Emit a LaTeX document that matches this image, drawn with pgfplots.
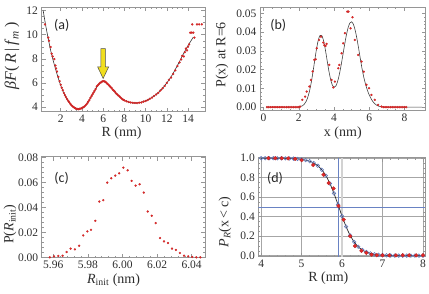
\documentclass[border=0pt]{standalone}
\usepackage{pgfplots}
\pgfplotsset{compat=1.18}
\usepackage{pgfplotstable}
\usepackage{fontspec}
\setmainfont{Liberation Serif}
\newfontfamily\panelfont{Carlito}
\definecolor{framec}{RGB}{150,150,150}
\definecolor{ptred}{RGB}{228,40,40}
\definecolor{ptblue}{RGB}{95,120,190}
\definecolor{lineblue}{RGB}{105,130,195}
\definecolor{txt}{RGB}{45,45,45}
\definecolor{arrowyellow}{RGB}{240,222,30}

\pgfplotstableread{
R F
0.52 10.86
0.83 9.76
0.90 9.50
1.05 8.98
1.15 8.43
1.24 8.20
1.40 7.98
1.50 7.45
1.56 7.20
1.65 6.95
1.78 6.50
1.90 6.15
2.00 5.85
2.10 5.60
2.20 5.40
2.30 5.17
2.40 4.98
2.50 4.82
2.60 4.66
2.70 4.52
2.80 4.40
2.90 4.27
3.00 4.16
3.10 4.08
3.20 4.00
3.30 3.94
3.40 3.88
3.50 3.85
3.60 3.84
3.70 3.82
3.80 3.86
3.90 3.87
4.00 3.92
4.10 3.97
4.20 4.02
4.30 4.10
4.40 4.20
4.50 4.30
4.60 4.45
4.70 4.58
4.80 4.75
4.90 4.90
5.00 5.05
5.10 5.20
5.20 5.35
5.30 5.50
5.40 5.72
5.50 5.80
5.60 5.90
5.70 6.00
5.80 6.05
5.90 6.12
6.00 6.15
6.10 6.13
6.20 6.10
6.30 6.02
6.40 5.92
6.50 5.85
6.60 5.75
6.70 5.66
6.80 5.58
6.90 5.45
7.00 5.37
7.10 5.28
7.20 5.15
7.30 5.08
7.40 4.98
7.50 4.92
7.60 4.82
7.70 4.74
7.80 4.66
7.90 4.60
8.00 4.55
8.20 4.48
8.40 4.42
8.60 4.38
8.80 4.35
9.00 4.34
9.20 4.33
9.40 4.36
9.60 4.38
9.80 4.45
10.00 4.50
10.20 4.58
10.40 4.68
10.60 4.78
10.80 4.92
11.00 5.05
11.20 5.18
11.40 5.38
11.60 5.55
11.80 5.75
12.00 6.00
12.20 6.25
12.40 6.45
12.60 6.75
12.80 7.05
13.00 7.40
13.20 7.70
13.35 7.95
13.45 8.25
13.60 8.20
13.70 8.55
13.80 8.85
13.90 8.70
14.00 9.00
14.10 9.20
14.20 10.17
14.35 10.17
14.50 10.17
14.60 9.76
14.40 10.86
14.85 10.86
15.05 10.86
15.30 10.86
}\dataA

\pgfplotstableread{
R F
0.35 12.00
0.50 11.20
0.60 10.70
0.75 10.00
0.90 9.35
1.00 8.90
1.25 8.00
1.50 7.20
1.75 6.45
2.00 5.80
2.25 5.25
2.50 4.80
2.75 4.45
3.00 4.15
3.25 3.97
3.50 3.87
3.75 3.85
4.00 3.90
4.25 4.05
4.50 4.30
4.75 4.65
5.00 5.05
5.25 5.45
5.50 5.80
5.75 6.05
6.00 6.15
6.25 6.05
6.50 5.85
6.75 5.60
7.00 5.35
7.25 5.10
7.50 4.90
7.75 4.70
8.00 4.55
8.50 4.38
9.00 4.33
9.50 4.38
10.00 4.52
10.50 4.75
11.00 5.05
11.50 5.45
12.00 6.00
12.50 6.65
13.00 7.45
13.50 8.30
14.00 9.10
14.50 9.80
}\curveA

\pgfplotstableread{
x P
0.2 0
0.3 0
0.4 0
0.5 0
0.6 0
0.7 0
0.8 0
0.9 0
1.0 0
1.1 0
1.2 0
1.3 0
1.4 0
1.5 0
1.6 0
1.7 0
1.8 0
1.9 0
2.0 0
2.07 0.0003
2.2 0.0039
2.36 0.0056
2.45 0.0083
2.6 0.0110
2.69 0.0145
2.79 0.0190
2.88 0.0252
2.96 0.0255
3.02 0.0314
3.15 0.0358
3.26 0.0376
3.39 0.0344
3.45 0.0330
3.52 0.0326
3.58 0.0337
3.73 0.0225
3.86 0.0145
3.96 0.0105
4.05 0.0136
4.24 0.0207
4.30 0.0225
4.43 0.0287
4.52 0.0340
4.62 0.0394
4.75 0.0509
4.82 0.0509
4.94 0.0420
5.05 0.0479
5.18 0.0358
5.37 0.0278
5.56 0.0243
5.69 0.0189
5.84 0.0119
5.99 0.0101
6.12 0.0065
6.31 0.0039
6.50 0.0012
6.69 0.0003
6.8 0
6.9 0
7.0 0
7.1 0
7.2 0
7.3 0
7.4 0
7.5 0
7.6 0
7.7 0
7.8 0
7.9 0
8.0 0
8.1 0
}\dataB

\pgfplotstableread{
x P
0.2 0
1.8 0.00002
2.0 0.00013
2.1 0.00031
2.2 0.00068
2.3 0.00143
2.4 0.00275
2.5 0.00494
2.6 0.00823
2.7 0.01275
2.8 0.01838
2.9 0.02461
3.0 0.03064
3.1 0.03546
3.2 0.03815
3.3 0.03825
3.4 0.03566
3.5 0.03103
3.6 0.02534
3.7 0.01968
3.8 0.01497
3.9 0.01185
4.0 0.01060
4.1 0.01122
4.2 0.01358
4.3 0.01736
4.4 0.02224
4.5 0.02773
4.6 0.03330
4.7 0.03838
4.8 0.04241
4.9 0.04487
5.0 0.04546
5.1 0.04410
5.2 0.04096
5.3 0.03643
5.4 0.03103
5.5 0.02530
5.6 0.02000
5.7 0.01540
5.8 0.01180
5.9 0.00880
6.0 0.00640
6.1 0.00450
6.2 0.00300
6.3 0.00190
6.4 0.00115
6.5 0.00065
6.6 0.00035
6.8 0.00008
7.0 0
9.0 0
}\curveB

\pgfplotstableread{
x P
5.9580 0.0000
5.9604 0.0008
5.9629 0.0011
5.9654 0.0013
5.9677 0.0043
5.9700 0.0070
5.9725 0.0064
5.9749 0.0093
5.9773 0.0176
5.9797 0.0208
5.9818 0.0221
5.9843 0.0293
5.9866 0.0448
5.9889 0.0459
5.9912 0.0600
5.9935 0.0635
5.9958 0.0656
5.9981 0.0675
6.0005 0.0720
6.0030 0.0699
6.0053 0.0614
6.0076 0.0576
6.0099 0.0587
6.0123 0.0520
6.0146 0.0368
6.0169 0.0334
6.0192 0.0275
6.0217 0.0155
6.0240 0.0128
6.0263 0.0115
6.0286 0.0070
6.0309 0.0059
6.0332 0.0035
6.0356 0.0013
6.0380 0.0008
6.0403 0.0003
6.0427 0.0000
6.0450 0.0000
}\dataC

\pgfplotstableread{
R P
4.18 1.000
4.35 1.000
4.51 1.000
4.67 0.998
4.84 0.993
5.00 0.980
5.29 0.930
5.54 0.830
5.67 0.745
5.79 0.690
5.91 0.510
6.04 0.370
6.20 0.200
6.32 0.100
6.48 0.050
6.60 0.030
6.73 0.012
6.86 0.005
7.00 0.004
7.17 0.004
7.33 0.004
7.50 0.004
7.66 0.004
7.83 0.004
8.00 0.004
}\dataDred

\pgfplotstableread{
R P
4.0 1.000
4.1 1.000
4.2 1.000
4.3 1.000
4.4 0.999
4.5 0.999
4.6 0.998
4.7 0.997
4.8 0.995
4.9 0.992
5.0 0.988
5.1 0.980
5.2 0.969
5.3 0.950
5.4 0.923
5.5 0.881
5.6 0.821
5.7 0.740
5.8 0.639
5.9 0.524
6.0 0.406
6.1 0.298
6.2 0.209
6.3 0.141
6.4 0.092
6.5 0.059
6.6 0.038
6.7 0.024
6.8 0.015
6.9 0.009
7.0 0.006
7.1 0.004
7.2 0.002
7.3 0.001
7.4 0.001
7.5 0.001
7.6 0.001
7.7 0.001
7.8 0.001
7.9 0.001
8.0 0.001
}\dataDblue

\pgfplotsset{
  mstyle/.style={
    scale only axis,
    anchor=south west,
    axis line style={framec, line width=0.6pt},
    every tick/.style={framec, line width=0.5pt},
    tick align=inside,
    major tick length=4pt,
    minor tick length=2pt,
    ticklabel style={font=\fontsize{11.5}{12}\selectfont, text=txt},
    label style={font=\fontsize{14}{14}\selectfont, text=txt},
    /pgf/number format/assume math mode=true,
    scaled ticks=false,
    clip=true,
  },
  redpts/.style={only marks, mark=*, mark size=1.05pt, mark options={fill=ptred, draw=ptred!85!black, line width=0.2pt}},
}

\begin{document}
\begin{tikzpicture}[x=1pt,y=1pt]
\path[use as bounding box] (0,0) rectangle (429,293);

% (a)
\begin{axis}[mstyle, at={(41.5pt,181.5pt)}, width=163.5pt, height=104.5pt,
  xmin=0.19, xmax=15.6, ymin=3.63, ymax=12.3,
  xtick={2,4,...,14}, ytick={4,6,...,12},
  minor x tick num=3, minor y tick num=3,
  xlabel={R (nm)},
  ylabel={\fontsize{16}{16}\selectfont\textit{βF}(\,\textit{R}\,|\,\textit{f}\textsubscript{\textit{m}}\,)},
  xlabel style={at={(axis description cs:0.49,-0.205)}, anchor=center},
  ylabel style={at={(axis description cs:-0.18,0.53)}, anchor=center},
]
\addplot[black!80, line width=0.6pt, smooth] table[x=R,y=F] {\curveA};
\addplot[redpts] table[x=R,y=F] {\dataA};
\draw[fill=arrowyellow, draw=black!70, line width=0.5pt]
  (axis cs:5.78,8.85) -- (axis cs:6.22,8.85) -- (axis cs:6.22,7.33) -- (axis cs:6.52,7.33)
  -- (axis cs:6.0,6.37) -- (axis cs:5.48,7.33) -- (axis cs:5.78,7.33) -- cycle;
\end{axis}

% (b)
\begin{axis}[mstyle, at={(260pt,182.5pt)}, width=165.7pt, height=103.2pt,
  xmin=-0.2, xmax=9.2, ymin=-0.0018, ymax=0.0532,
  xtick={0,2,...,8}, ytick={0,0.01,...,0.05},
  yticklabel style={/pgf/number format/.cd, fixed, fixed zerofill, precision=2},
  minor x tick num=3, minor y tick num=4,
  xlabel={x (nm)},
  ylabel={P(x) at R=6},
  xlabel style={at={(axis description cs:0.5,-0.218)}, anchor=center},
  ylabel style={at={(axis description cs:-0.23,0.54)}, anchor=center},
]
\addplot[black!75, line width=0.6pt, smooth] table[x=x,y=P] {\curveB};
\addplot[redpts] table[x=x,y=P] {\dataB};
\end{axis}

% (c)
\begin{axis}[mstyle, at={(41.7pt,35.3pt)}, width=163.3pt, height=101pt,
  xmin=5.9533, xmax=6.0477, ymin=-0.0003, ymax=0.0808,
  xtick={5.96,5.98,6.00,6.02,6.04}, ytick={0,0.02,...,0.08},
  xticklabel style={/pgf/number format/.cd, fixed, fixed zerofill, precision=2},
  yticklabel style={/pgf/number format/.cd, fixed, fixed zerofill, precision=2},
  minor x tick num=4, minor y tick num=4,
  xlabel={\textit{R}\textsubscript{init} (nm)},
  ylabel={P(\textit{R}\textsubscript{init})},
  xlabel style={at={(axis description cs:0.44,-0.22)}, anchor=center},
  ylabel style={at={(axis description cs:-0.194,0.33)}, anchor=center},
]
\addplot[redpts] table[x=x,y=P] {\dataC};
\end{axis}

% (d)
\begin{axis}[mstyle, at={(258.3pt,36.3pt)}, width=166.7pt, height=99pt,
  xmin=3.93, xmax=8.05, ymin=-0.01, ymax=1.005,
  xtick={4,5,6,7,8}, ytick={0,0.2,...,1.0},
  yticklabel style={/pgf/number format/.cd, fixed, fixed zerofill, precision=1},
  minor x tick num=4, minor y tick num=3,
  grid=major, major grid style={gray!70, line width=0.5pt},
  xlabel={R (nm)},
  ylabel={\textit{P}\textsubscript{\textit{R}}(x\,<\,c)},
  xlabel style={at={(axis description cs:0.42,-0.215)}, anchor=center},
  ylabel style={at={(axis description cs:-0.2,0.35)}, anchor=center},
]
\addplot[gray!35, line width=1.2pt] coordinates {(6.0,-0.01) (6.0,1.005)};
\addplot[lineblue, line width=0.8pt] coordinates {(5.92,-0.01) (5.92,1.005)};
\addplot[lineblue, line width=0.8pt] coordinates {(3.93,0.5) (8.05,0.5)};
\addplot[black!85, line width=0.7pt, smooth] table[x=R,y=P] {\dataDblue};
\addplot[only marks, mark=o, mark size=1.8pt, mark options={draw=ptblue, line width=0.55pt}] table[x=R,y=P] {\dataDblue};
\addplot[only marks, mark=*, mark size=1.9pt, mark options={fill=ptred, draw=ptred!80!black, line width=0.3pt}] table[x=R,y=P] {\dataDred};
\end{axis}

\node[font=\panelfont\fontsize{14}{14}\selectfont, text=black!85] at (61.7,268) {(a)};
\node[font=\panelfont\fontsize{14}{14}\selectfont, text=black!85] at (278.3,268) {(b)};
\node[font=\panelfont\fontsize{14}{14}\selectfont, text=black!85] at (61.7,114.7) {(c)};
\node[font=\panelfont\fontsize{14}{14}\selectfont, text=black!85] at (275,114.7) {(d)};
\end{tikzpicture}
\end{document}
